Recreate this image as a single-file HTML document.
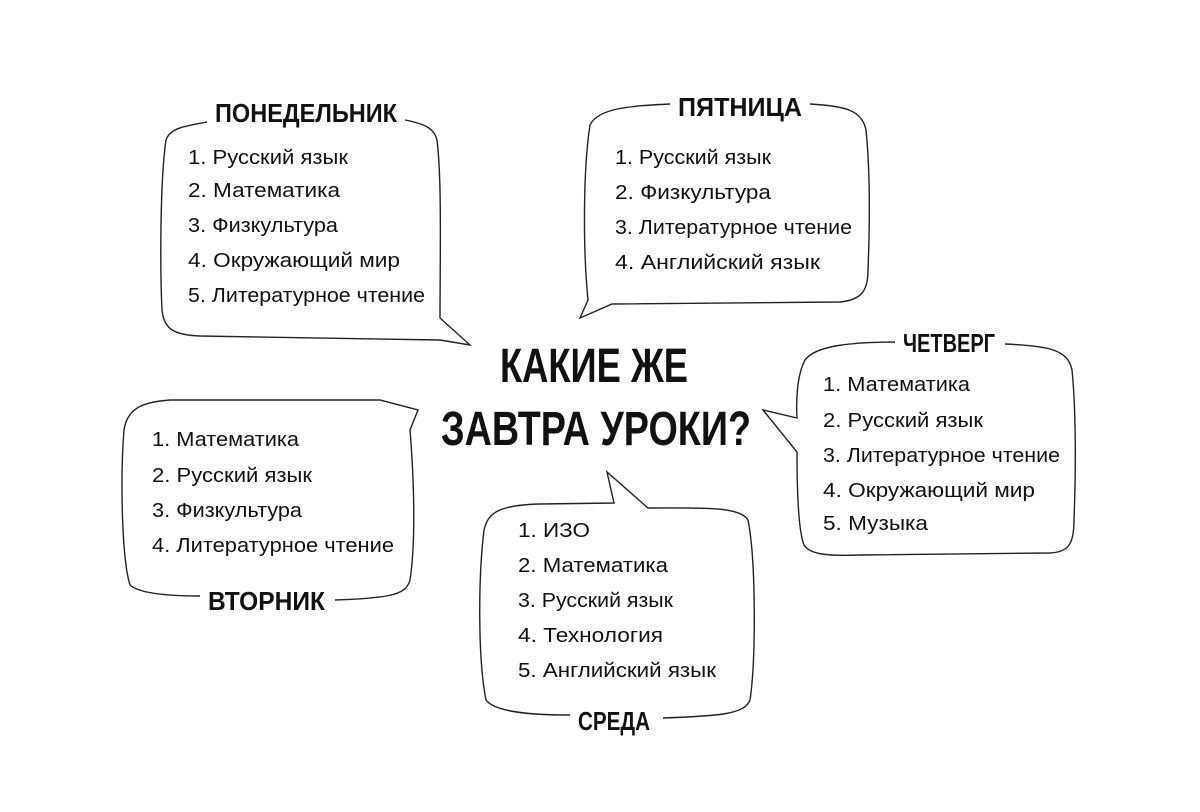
<!DOCTYPE html>
<html><head><meta charset="utf-8"><style>
html,body{margin:0;padding:0;background:#fff}
svg{display:block}
.l{font-family:"Liberation Sans",sans-serif;font-size:20px;fill:#111}
.t{font-family:"Liberation Sans Narrow","Liberation Sans",sans-serif;font-weight:bold;font-size:26px;fill:#111}
.h{font-family:"Liberation Sans Narrow","Liberation Sans",sans-serif;font-weight:bold;font-size:48px;fill:#111}
path{fill:none;stroke:#222;stroke-width:1.4}
</style></head><body>
<svg width="1200" height="812" viewBox="0 0 1200 812">
<!-- Monday -->
<path d="M207,122 C185,126 170,128 166,140 C160,180 160,270 162,310 C164,330 175,335 200,336 L440,340 L470,345 L440,318 C440,260 442,180 437,140 C434,128 425,124 405,120"/>
<text class="t" x="215" y="122" textLength="182" lengthAdjust="spacingAndGlyphs">ПОНЕДЕЛЬНИК</text>
<g class="l">
<text x="188" y="164" textLength="160" lengthAdjust="spacingAndGlyphs">1. Русский язык</text>
<text x="188" y="197" textLength="152" lengthAdjust="spacingAndGlyphs">2. Математика</text>
<text x="188" y="232" textLength="150" lengthAdjust="spacingAndGlyphs">3. Физкультура</text>
<text x="188" y="267" textLength="212" lengthAdjust="spacingAndGlyphs">4. Окружающий мир</text>
<text x="188" y="302" textLength="237" lengthAdjust="spacingAndGlyphs">5. Литературное чтение</text>
</g>
<!-- Friday -->
<path d="M670,104 C630,106 598,108 590,125 C583,170 583,250 588,300 L580,318 L612,304 L840,302 C862,300 868,290 868,270 C870,220 870,170 866,130 C862,110 845,106 810,104"/>
<text class="t" x="678" y="116" textLength="124" lengthAdjust="spacingAndGlyphs">ПЯТНИЦА</text>
<g class="l">
<text x="615" y="164" textLength="156" lengthAdjust="spacingAndGlyphs">1. Русский язык</text>
<text x="615" y="199" textLength="156" lengthAdjust="spacingAndGlyphs">2. Физкультура</text>
<text x="615" y="234" textLength="237" lengthAdjust="spacingAndGlyphs">3. Литературное чтение</text>
<text x="615" y="269" textLength="205" lengthAdjust="spacingAndGlyphs">4. Английский язык</text>
</g>
<!-- Thursday -->
<path d="M895,342 C850,342 815,346 805,360 C797,375 796,400 797,418 L763,410 L797,452 C797,490 798,530 804,545 C810,555 830,556 860,555 L1050,553 C1068,552 1074,545 1074,520 C1076,470 1076,410 1072,370 C1068,350 1050,346 1005,344"/>
<text class="t" x="903" y="352" textLength="92" lengthAdjust="spacingAndGlyphs">ЧЕТВЕРГ</text>
<g class="l">
<text x="823" y="391" textLength="147" lengthAdjust="spacingAndGlyphs">1. Математика</text>
<text x="823" y="427" textLength="160" lengthAdjust="spacingAndGlyphs">2. Русский язык</text>
<text x="823" y="462" textLength="237" lengthAdjust="spacingAndGlyphs">3. Литературное чтение</text>
<text x="823" y="497" textLength="212" lengthAdjust="spacingAndGlyphs">4. Окружающий мир</text>
<text x="823" y="530" textLength="105" lengthAdjust="spacingAndGlyphs">5. Музыка</text>
</g>
<!-- Tuesday -->
<path d="M200,596 C170,596 140,594 130,585 C122,560 120,480 124,430 C127,410 140,402 170,400 L380,400 L418,410 L410,430 C414,480 416,540 410,580 C406,595 390,598 335,600"/>
<text class="t" x="208" y="610" textLength="117" lengthAdjust="spacingAndGlyphs">ВТОРНИК</text>
<g class="l">
<text x="152" y="446" textLength="147" lengthAdjust="spacingAndGlyphs">1. Математика</text>
<text x="152" y="482" textLength="160" lengthAdjust="spacingAndGlyphs">2. Русский язык</text>
<text x="152" y="517" textLength="150" lengthAdjust="spacingAndGlyphs">3. Физкультура</text>
<text x="152" y="552" textLength="242" lengthAdjust="spacingAndGlyphs">4. Литературное чтение</text>
</g>
<!-- Wednesday -->
<path d="M570,715 C530,715 495,712 486,700 C478,660 478,580 484,530 C488,512 500,505 540,504 L614,503 L607,472 L648,508 C700,508 740,506 748,520 C756,560 756,660 750,700 C745,714 720,716 663,718"/>
<text class="t" x="578" y="730" textLength="72" lengthAdjust="spacingAndGlyphs">СРЕДА</text>
<g class="l">
<text x="518" y="537" textLength="72" lengthAdjust="spacingAndGlyphs">1. ИЗО</text>
<text x="518" y="572" textLength="150" lengthAdjust="spacingAndGlyphs">2. Математика</text>
<text x="518" y="607" textLength="155" lengthAdjust="spacingAndGlyphs">3. Русский язык</text>
<text x="518" y="642" textLength="145" lengthAdjust="spacingAndGlyphs">4. Технология</text>
<text x="518" y="677" textLength="198" lengthAdjust="spacingAndGlyphs">5. Английский язык</text>
</g>
<!-- Center -->
<text class="h" x="500" y="382" textLength="188" lengthAdjust="spacingAndGlyphs">КАКИЕ ЖЕ</text>
<text class="h" x="441" y="445" textLength="310" lengthAdjust="spacingAndGlyphs">ЗАВТРА УРОКИ?</text>
</svg>
</body></html>
